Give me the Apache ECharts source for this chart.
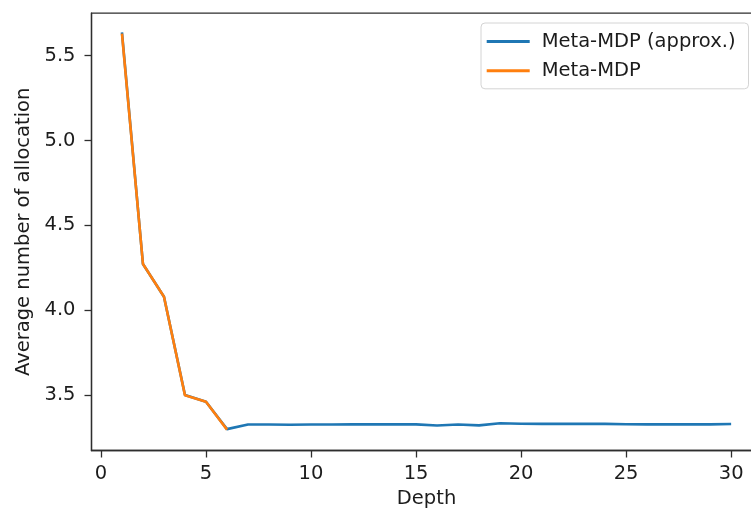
<!DOCTYPE html>
<html>
<head>
<meta charset="utf-8">
<script src="https://cdn.jsdelivr.net/npm/echarts@6/dist/echarts.min.js"></script>
<style>
  html, body { margin: 0; padding: 0; background: #fff; }
  #chart { width: 751px; height: 511px; }
</style>
</head>
<body>
<div id="chart"></div>
<script>
// Search depth on the x axis
const depths = [1, 2, 3, 4, 5, 6, 7, 8, 9, 10, 11, 12, 13, 14, 15,
                16, 17, 18, 19, 20, 21, 22, 23, 24, 25, 26, 27, 28, 29, 30];

// Average number of allocations, approximate meta-MDP (all depths)
const approxValues = [5.638, 4.272, 4.079, 3.500, 3.460, 3.299, 3.326, 3.326, 3.325, 3.326,
                      3.326, 3.328, 3.327, 3.328, 3.327, 3.320, 3.326, 3.321, 3.334, 3.331,
                      3.330, 3.330, 3.330, 3.330, 3.328, 3.327, 3.327, 3.327, 3.327, 3.329];

// Average number of allocations, exact meta-MDP (shallow depths only)
const exactValues = [5.630, 4.272, 4.079, 3.498, 3.460, 3.296];

const xTicks = [0, 5, 10, 15, 20, 25, 30];
const yTicks = [3.5, 4.0, 4.5, 5.0, 5.5];

const seriesNames = ['Meta-MDP (approx.)', 'Meta-MDP'];

const FONT = 'DejaVu Sans';
const INK = '#1c1c1c';
const SPINE = '#2e2e2e';

const pairs = (vals) => vals.map((v, i) => [depths[i], v]);

const chart = echarts.init(document.getElementById('chart'), null, { renderer: 'canvas' });

chart.setOption({
  animation: false,
  backgroundColor: '#ffffff',
  textStyle: { fontFamily: FONT },
  grid: {
    left: 91.5,
    top: 13.1,
    width: 670.1,
    height: 437.4,
    containLabel: false,
    outerBoundsMode: 'none',
    show: true,
    borderColor: SPINE,
    borderWidth: 1.3,
    backgroundColor: 'transparent'
  },
  legend: {
    orient: 'vertical',
    left: 481,
    top: 23,
    data: seriesNames.map(n => ({ name: n, icon: 'rect' })),
    itemWidth: 43,
    itemHeight: 3,
    itemGap: 9.3,
    padding: [8.5, 13, 8, 5.7],
    backgroundColor: '#ffffff',
    borderColor: '#d4d4d4',
    borderWidth: 1,
    borderRadius: 4,
    textStyle: {
      fontFamily: FONT,
      fontSize: 19.5,
      color: INK,
      lineHeight: 20,
      padding: [0, 0, 0, 7]
    }
  },
  xAxis: {
    type: 'value',
    min: -0.45,
    max: 31.45,
    name: 'Depth',
    nameLocation: 'middle',
    nameGap: 38,
    nameTextStyle: { fontFamily: FONT, fontSize: 19.5, color: INK },
    axisLine: { show: true, onZero: false, lineStyle: { color: SPINE, width: 1.3 } },
    axisTick: { show: true, length: 7, lineStyle: { color: SPINE, width: 1.3 }, customValues: xTicks },
    axisLabel: { fontFamily: FONT, fontSize: 19.5, color: INK, margin: 13, customValues: xTicks },
    splitLine: { show: false }
  },
  yAxis: {
    type: 'value',
    min: 3.173,
    max: 5.751,
    name: 'Average number of allocation',
    nameLocation: 'middle',
    nameRotate: 90,
    nameGap: 58,
    nameTextStyle: { fontFamily: FONT, fontSize: 19.5, color: INK },
    axisLine: { show: true, onZero: false, lineStyle: { color: SPINE, width: 1.3 } },
    axisTick: { show: true, length: 7, lineStyle: { color: SPINE, width: 1.3 }, customValues: yTicks },
    axisLabel: {
      fontFamily: FONT, fontSize: 19.5, color: INK, margin: 16,
      customValues: yTicks,
      formatter: (v) => v.toFixed(1)
    },
    splitLine: { show: false }
  },
  series: [
    {
      name: seriesNames[0],
      type: 'line',
      data: pairs(approxValues),
      symbol: 'none',
      color: '#1f77b4',
      lineStyle: { color: '#1f77b4', width: 2.6 },
      z: 2
    },
    {
      name: seriesNames[1],
      type: 'line',
      data: pairs(exactValues),
      symbol: 'none',
      color: '#ff7f0e',
      lineStyle: { color: '#ff7f0e', width: 2.6 },
      z: 3
    }
  ]
});
</script>
</body>
</html>
